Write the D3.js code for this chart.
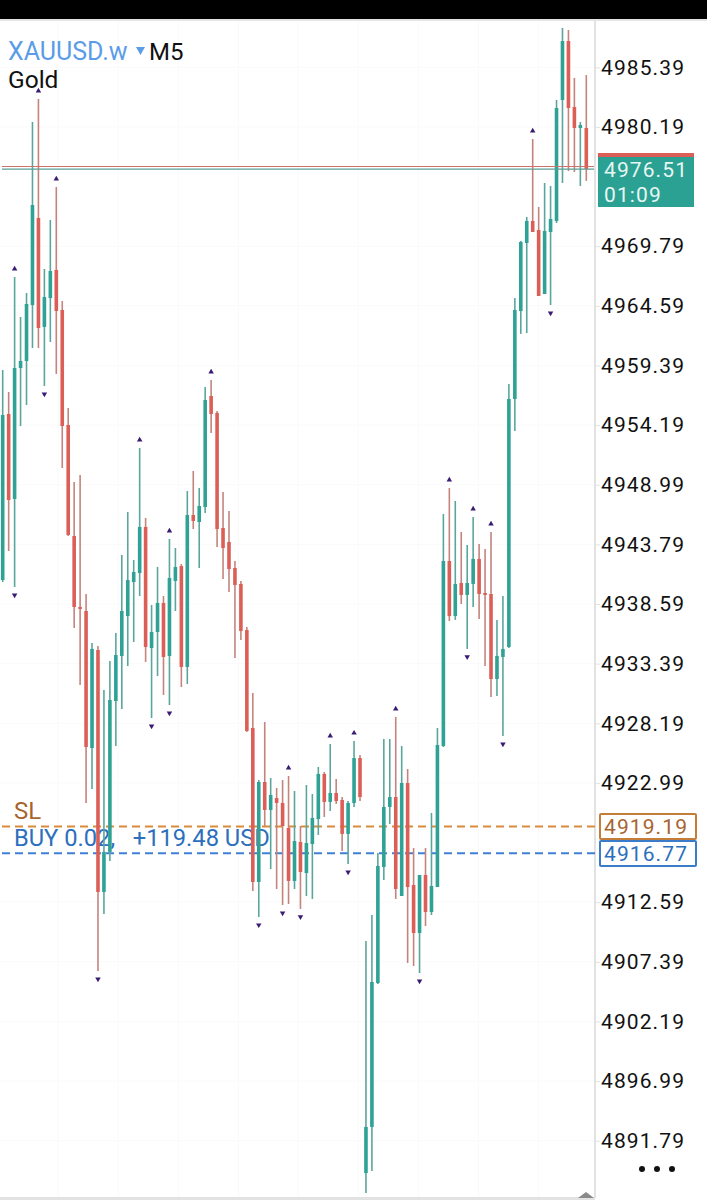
<!DOCTYPE html>
<html>
<head>
<meta charset="utf-8">
<style>
  html, body { margin: 0; padding: 0; background: #fff; }
  svg { display: block; }
  text { font-family: Roboto, sans-serif; }
</style>
</head>
<body>
<svg></svg>
<script src="https://cdn.jsdelivr.net/npm/d3@7"></script>
<script>
// candle values
var opens = [4940.68,4955.16,4947.75,4959.17,4959.78,4964.66,4972.25,4962.75,4965.27,4967.72,
  4964.23,4954.20,4944.52,4938.33,4937.98,4926.03,4934.58,4913.48,4916.97,4930.13,
  4934.06,4937.54,4940.51,4941.29,4945.31,4934.75,4936.15,4938.68,4934.06,4940.60,
  4941.90,4933.10,4946.35,4945.74,4947.05,4956.73,4955.25,4945.22,4944.00,4941.73,
  4940.34,4936.32,4927.78,4914.35,4923.07,4920.63,4921.67,4921.24,4919.06,4914.44,
  4917.84,4915.13,4917.66,4919.84,4923.77,4921.33,4922.11,4921.50,4918.54,4921.24,
  4925.16,4888.97,4892.99,4905.54,4915.66,4920.89,4921.76,4913.13,4922.98,4914.09,
  4909.90,4914.96,4911.73,4913.91,4926.21,4942.34,4937.54,4940.42,4939.38,4940.34,
  4942.52,4939.55,4939.46,4932.05,4933.97,4934.84,4956.47,4964.14,4970.07,4971.99,
  4971.20,4965.62,4971.03,4971.99,4982.54,4987.68,4981.93,4980.10,4980.10];
var highs = [4959.00,4957.08,4967.11,4963.62,4965.71,4980.62,4982.63,4967.80,4972.08,4974.95,
  4965.01,4955.68,4949.23,4949.84,4939.46,4935.19,4934.93,4931.09,4933.62,4936.06,
  4942.86,4946.61,4942.43,4952.19,4946.09,4938.50,4941.82,4939.29,4944.26,4943.47,
  4942.08,4948.44,4950.19,4948.71,4957.51,4958.12,4955.42,4948.36,4946.70,4942.34,
  4940.60,4936.59,4930.83,4923.24,4928.30,4923.42,4922.55,4923.24,4923.59,4922.28,
  4919.23,4922.81,4922.02,4924.38,4923.94,4926.38,4923.33,4921.76,4921.41,4926.64,
  4925.42,4909.20,4911.47,4916.88,4926.82,4926.82,4928.74,4926.21,4924.20,4917.31,
  4914.96,4917.31,4920.37,4927.78,4946.44,4948.71,4947.57,4944.87,4943.74,4946.18,
  4943.82,4943.39,4944.87,4937.20,4939.29,4957.78,4965.27,4970.25,4972.34,4979.14,
  4973.21,4975.30,4975.04,4982.54,4988.82,4988.64,4984.46,4980.62,4984.72];
var lows = [4940.51,4943.21,4940.07,4954.11,4955.94,4960.91,4960.91,4957.60,4961.44,4958.65,
  4950.45,4944.52,4936.50,4931.53,4921.24,4922.46,4906.59,4911.56,4916.18,4926.21,
  4929.44,4933.18,4935.28,4939.29,4933.53,4928.65,4932.31,4930.66,4929.78,4937.98,
  4931.35,4931.62,4945.13,4941.73,4946.53,4953.50,4943.56,4940.77,4939.64,4933.88,
  4935.45,4927.43,4913.56,4911.30,4919.23,4915.48,4913.74,4912.34,4912.43,4913.74,
  4912.00,4913.13,4912.87,4918.45,4920.02,4920.54,4921.15,4917.05,4915.92,4920.89,
  4921.41,4887.23,4889.15,4905.46,4914.52,4919.41,4912.87,4913.13,4907.29,4907.02,
  4906.41,4910.51,4911.47,4913.91,4926.12,4937.11,4937.20,4938.59,4934.67,4938.33,
  4937.28,4933.18,4930.48,4930.57,4927.08,4934.75,4953.68,4962.14,4962.22,4971.03,
  4965.45,4965.62,4964.66,4971.81,4975.30,4976.35,4976.26,4975.04,4975.48];
var closes = [4955.07,4947.66,4959.17,4959.78,4964.75,4973.38,4962.66,4965.36,4967.63,4964.14,
  4954.11,4944.61,4938.33,4938.16,4926.12,4934.67,4913.48,4916.97,4930.22,4934.14,
  4937.98,4940.68,4941.38,4945.31,4934.84,4936.15,4938.68,4933.97,4940.86,4941.82,
  4933.10,4946.35,4945.83,4947.14,4956.38,4955.16,4945.13,4943.47,4941.64,4940.25,
  4936.24,4927.52,4914.35,4923.07,4920.63,4921.94,4921.24,4919.23,4914.44,4917.92,
  4915.22,4917.75,4919.93,4923.77,4921.33,4922.11,4921.41,4918.54,4921.24,4925.16,
  4921.76,4892.99,4905.63,4915.74,4920.89,4921.76,4913.74,4922.98,4913.91,4909.90,
  4914.96,4911.73,4914.00,4926.30,4942.34,4937.54,4940.34,4939.38,4940.42,4942.52,
  4939.46,4939.38,4932.05,4934.06,4934.67,4956.47,4964.23,4970.16,4971.99,4971.03,
  4965.45,4971.12,4972.16,4981.84,4987.68,4981.84,4980.10,4980.36,4976.52];

// fractal arrows, by candle number
var fractalUp = [2,6,9,23,28,35,48,55,59,66,75,79,82,89];
var fractalDown = [2,7,16,25,28,43,47,50,58,70,78,84,92];

var priceTicks = [4985.39,4980.19,4969.79,4964.59,4959.39,4954.19,4948.99,4943.79,4938.59,4933.39,
  4928.19,4922.99,4912.59,4907.39,4902.19,4896.99,4891.79];
var gridCandles = [9.3,19.4,29.5,39.6,49.6,59.7,69.8,79.9,90];
var bidPrice = 4976.51, askPrice = 4976.74;
var slPrice = 4919.19, buyPrice = 4916.85;

var svgWidth = 707, svgHeight = 1200, axisX = 595;

var svg = d3.select("svg").attr("width", svgWidth).attr("height", svgHeight);

// scales
var xScale = d3.scaleLinear().domain([0, opens.length - 1]).range([2.7, 586.3]);
var yScale = d3.scaleLinear().domain([4891.79, 4985.39]).range([1140.7, 67.3]);

// top bar
svg.append("rect").attr("width", svgWidth).attr("height", 19).attr("fill", "#000");
svg.append("rect").attr("y", 19).attr("width", svgWidth).attr("height", 2).attr("fill", "#e4e4e4");

// faint grid
svg.append("g").selectAll("line").data(priceTicks).enter().append("line")
  .attr("x1", 0).attr("x2", axisX)
  .attr("y1", function(d) { return yScale(d); })
  .attr("y2", function(d) { return yScale(d); })
  .attr("stroke", "#fafafa");
svg.append("g").selectAll("line").data(gridCandles).enter().append("line")
  .attr("x1", function(d) { return xScale(d); })
  .attr("x2", function(d) { return xScale(d); })
  .attr("y1", 21).attr("y2", 1197)
  .attr("stroke", "#fafafa");

// chart frame
svg.append("line").attr("x1", axisX).attr("x2", axisX).attr("y1", 21).attr("y2", 1198)
  .attr("stroke", "#e2e2e2").attr("stroke-width", 2);
svg.append("line").attr("x1", 0).attr("x2", axisX).attr("y1", 1198.5).attr("y2", 1198.5)
  .attr("stroke", "#e2e2e2").attr("stroke-width", 3);
svg.append("path").attr("d", "M578,1198L586,1192L594,1198Z").attr("fill", "#8a8a8a");

// price axis
var yAxis = d3.axisRight(yScale)
  .tickValues(priceTicks)
  .tickFormat(function(d) { return d.toFixed(2); })
  .tickSize(5)
  .tickPadding(1);
var axisG = svg.append("g").attr("transform", "translate(" + axisX + ",0)").call(yAxis);
axisG.select(".domain").remove();
axisG.selectAll(".tick line").attr("stroke", "#e2e2e2");
axisG.selectAll(".tick text")
  .attr("fill", "#111")
  .style("font-family", "Roboto, sans-serif")
  .style("font-size", "21px")
  .style("letter-spacing", "1.1px");

// SL and BUY lines with their labels, under the candles
svg.append("text").attr("x", 14).attr("y", 819).attr("fill", "#a8642f")
  .style("font-size", "24px").text("SL");
svg.append("text").attr("x", 14).attr("y", 846).attr("fill", "#2b6fbd")
  .style("font-size", "23.7px").attr("xml:space", "preserve")
  .style("white-space", "pre").text("BUY 0.02,   +119.48 USD");
svg.append("line").attr("x1", 2).attr("x2", axisX)
  .attr("y1", yScale(slPrice)).attr("y2", yScale(slPrice))
  .attr("stroke", "#d98b3c").attr("stroke-width", 2).attr("stroke-dasharray", "8,5");
svg.append("line").attr("x1", 2).attr("x2", axisX)
  .attr("y1", yScale(buyPrice)).attr("y2", yScale(buyPrice))
  .attr("stroke", "#3f7fd6").attr("stroke-width", 2).attr("stroke-dasharray", "8,5");

// candles
var greenBody = "#2fa295", redBody = "#dc5f57", greenWick = "#5aa69d", redWick = "#c4847d";
var candles = svg.append("g").selectAll("g").data(opens).enter().append("g");

candles.append("line")
  .attr("x1", function(d, i) { return xScale(i); })
  .attr("x2", function(d, i) { return xScale(i); })
  .attr("y1", function(d, i) { return yScale(highs[i]); })
  .attr("y2", function(d, i) { return yScale(lows[i]); })
  .attr("stroke", function(d, i) { return closes[i] >= d ? greenWick : redWick; })
  .attr("stroke-width", 1.6);

candles.append("rect")
  .attr("x", function(d, i) { return xScale(i) - 1.8; })
  .attr("width", 3.6)
  .attr("y", function(d, i) { return yScale(Math.max(d, closes[i])); })
  .attr("height", function(d, i) { return Math.max(1, Math.abs(yScale(d) - yScale(closes[i]))); })
  .attr("fill", function(d, i) { return closes[i] >= d ? greenBody : redBody; });

// fractal arrows
var arrow = d3.symbol().type(d3.symbolTriangle).size(13);
svg.append("g").selectAll("path").data(fractalUp).enter().append("path")
  .attr("d", arrow)
  .attr("fill", "#3a1b73")
  .attr("transform", function(d) {
    return "translate(" + xScale(d) + "," + (yScale(highs[d]) - 8) + ")";
  });
svg.append("g").selectAll("path").data(fractalDown).enter().append("path")
  .attr("d", arrow)
  .attr("fill", "#3a1b73")
  .attr("transform", function(d) {
    return "translate(" + xScale(d) + "," + (yScale(lows[d]) + 8) + ") rotate(180)";
  });

// current price lines
svg.append("line").attr("x1", 2).attr("x2", 594)
  .attr("y1", yScale(askPrice)).attr("y2", yScale(askPrice))
  .attr("stroke", "#c9756e").attr("stroke-width", 1.2);
svg.append("line").attr("x1", 2).attr("x2", 594)
  .attr("y1", yScale(bidPrice)).attr("y2", yScale(bidPrice))
  .attr("stroke", "#5c9f97").attr("stroke-width", 1.2);

// current price box
svg.append("rect").attr("x", 598).attr("y", 153).attr("width", 96).attr("height", 54).attr("fill", "#2aa193");
svg.append("rect").attr("x", 598).attr("y", 153).attr("width", 96).attr("height", 4).attr("fill", "#dc5f57");
svg.append("text").attr("x", 604).attr("y", 177).attr("fill", "#e8f6f3")
  .style("font-size", "21px").style("letter-spacing", "1.1px").text(bidPrice.toFixed(2));
svg.append("text").attr("x", 604).attr("y", 202).attr("fill", "#e8f6f3")
  .style("font-size", "21px").style("letter-spacing", "1.1px").text("01:09");

// SL and BUY price boxes
svg.append("rect").attr("x", 600).attr("y", 814).attr("width", 96).attr("height", 25).attr("rx", 1)
  .attr("fill", "#fff").attr("stroke", "#c57d3a").attr("stroke-width", 2);
svg.append("text").attr("x", 604).attr("y", 834).attr("fill", "#a8642f")
  .style("font-size", "21px").style("letter-spacing", "1.1px").text(slPrice.toFixed(2));
svg.append("rect").attr("x", 600).attr("y", 841).attr("width", 96).attr("height", 25).attr("rx", 1)
  .attr("fill", "#fff").attr("stroke", "#3a7cc9").attr("stroke-width", 2);
svg.append("text").attr("x", 604).attr("y", 861).attr("fill", "#2b6fbd")
  .style("font-size", "21px").style("letter-spacing", "1.1px").text("4916.77");

// symbol header
svg.append("text").attr("x", 8).attr("y", 60).attr("fill", "#5b9ce8")
  .style("font-size", "25px").text("XAUUSD.w");
svg.append("path").attr("d", "M136,47L145,47L140.5,55Z").attr("fill", "#5b9ce8");
svg.append("text").attr("x", 149).attr("y", 60).attr("fill", "#111")
  .style("font-size", "24px").text("M5");
svg.append("text").attr("x", 8).attr("y", 88).attr("fill", "#111")
  .style("font-size", "24.5px").text("Gold");

// menu dots
svg.append("g").selectAll("circle").data([642, 657, 672]).enter().append("circle")
  .attr("cx", function(d) { return d; }).attr("cy", 1169).attr("r", 3).attr("fill", "#111");
</script>
</body>
</html>
